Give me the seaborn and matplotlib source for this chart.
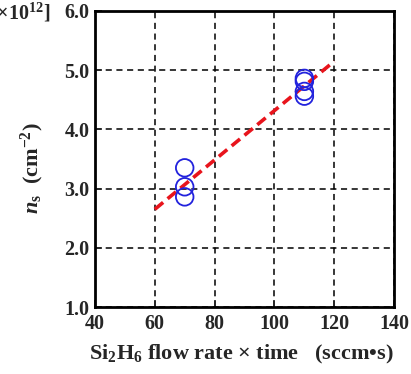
import numpy as np
import pandas as pd
import matplotlib
matplotlib.use("Agg")
import matplotlib.pyplot as plt
import seaborn as sns

# Data
x_flow = [70, 70, 70, 110, 110, 110, 110]
ns_vals = [3.35, 3.03, 2.86, 4.86, 4.81, 4.64, 4.56]
fit_x = [60, 120]
fit_y = [2.65, 5.15]
x_ticks = [40, 60, 80, 100, 120, 140]
y_ticks = [1.0, 2.0, 3.0, 4.0, 5.0, 6.0]

sns.set_style("white")
plt.rcParams['font.family'] = ['Liberation Serif', 'DejaVu Serif']
plt.rcParams['font.weight'] = 'bold'
plt.rcParams['mathtext.fontset'] = 'custom'
plt.rcParams['mathtext.rm'] = 'Liberation Serif:bold'
plt.rcParams['mathtext.it'] = 'Liberation Serif:italic:bold'
plt.rcParams['mathtext.bf'] = 'Liberation Serif:bold'

fig = plt.figure(figsize=(4.11, 3.74), dpi=100)
ax = fig.add_axes([0.231, 0.179, 0.728, 0.792])

df = pd.DataFrame({"x": x_flow, "ns": ns_vals})
fit = pd.DataFrame({"x": fit_x, "y": fit_y})

sns.lineplot(data=fit, x="x", y="y", ax=ax, color="#e8141c", lw=2.6,
             linestyle=(0, (3, 1.6)), zorder=3)
sns.scatterplot(data=df, x="x", y="ns", ax=ax, s=160, marker="o",
                facecolor="none", edgecolor="#2222dd", linewidth=1.3, zorder=4)

ax.set_xlim(40, 140)
ax.set_ylim(1.0, 6.0)
ax.set_xticks(x_ticks)
ax.set_yticks(y_ticks)
ax.set_xticklabels([str(t) for t in x_ticks], fontsize=14.5, fontweight='bold')
ax.set_yticklabels([f"{t:.1f}" for t in y_ticks], fontsize=14.5, fontweight='bold')
ax.grid(True, color='black', linestyle=(0, (4, 3)), linewidth=1.1)
ax.tick_params(direction='in', length=5, width=1.2, bottom=True, left=True)
ax.tick_params(axis='x', pad=5)
ax.tick_params(axis='y', pad=4)
for sp in ax.spines.values():
    sp.set_linewidth(2.0)
    sp.set_color('black')

ax.set_xlabel("Si$_2$H$_6$ flow rate \u00d7 time   (sccm\u2022s)",
              fontsize=16, fontweight='bold')
ax.xaxis.set_label_coords(0.49, -0.12)
ax.set_ylabel(r"$\mathit{n}_{\rm s}$  (cm$^{-2}$)", fontsize=16, fontweight='bold')
ax.yaxis.set_label_coords(-0.165, 0.47)

fig.text(50/411, 1 - 13/374, "[\u00d710$^{12}$]", fontsize=14.5, fontweight='bold',
         ha='right', va='center')

fig.savefig("out.png", dpi=100)
